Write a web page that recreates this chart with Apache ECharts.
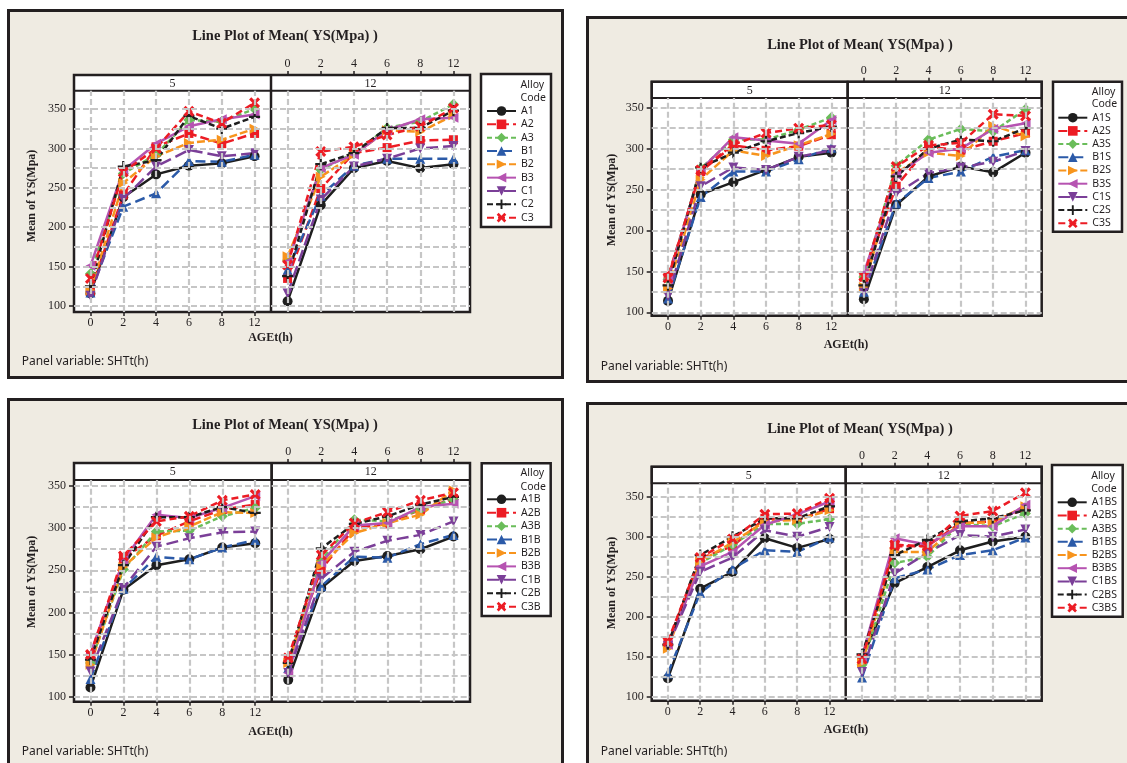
<!DOCTYPE html>
<html><head><meta charset="utf-8">
<script src="https://cdn.jsdelivr.net/npm/echarts@6/dist/echarts.min.js"></script>
<style>html,body{margin:0;padding:0;background:#fff}#c{width:1127px;height:763px}</style>
</head><body><div id="c"></div>
<script>
// ---------- data ----------
const categories = ['0','2','4','6','8','12'];
const yTickValues = [100,150,200,250,300,350];
const gridValues = [100,125,150,175,200,225,250,275,300,325,350];
const alloyCodes = ['A1','A2','A3','B1','B2','B3','C1','C2','C3'];
const panelSuffixes = ['', 'S', 'B', 'BS'];
const shtLevels = ['5','12'];
const titleText = 'Line Plot of Mean( YS(Mpa) )';
const yAxisName = 'Mean of YS(Mpa)';
const xAxisName = 'AGEt(h)';
const panelVarText = 'Panel variable: SHTt(h)';
const legendTitle = ['Alloy','Code'];

// rows: A1,A2,A3,B1,B2,B3,C1,C2,C3 ; columns: AGEt 0,2,4,6,8,12
const plain_sht5 = [
  [116,238,267,278,281,290],
  [118,241,302,319,306,319],
  [141,268,292,336,334,350],
  [117,226,243,284,283,292],
  [120,256,290,307,311,325],
  [151,272,306,328,337,343],
  [113,236,277,298,290,294],
  [125,277,285,341,325,340],
  [135,270,300,347,332,358]
];
const plain_sht12 = [
  [106,228,275,284,275,280],
  [135,249,294,301,310,311],
  [158,273,294,326,334,356],
  [146,240,278,287,287,287],
  [163,264,292,323,321,342],
  [156,275,292,323,337,339],
  [116,235,277,287,300,303],
  [138,280,294,326,326,348],
  [152,296,302,317,328,351]
];
const s_sht5 = [
  [114,244,259,274,290,295],
  [144,272,304,298,303,317],
  [140,276,311,311,323,338],
  [117,241,272,272,287,301],
  [129,262,298,291,304,318],
  [140,274,314,310,306,335],
  [120,254,277,274,290,298],
  [133,277,295,309,319,327],
  [142,274,305,319,325,329]
];
const s_sht12 = [
  [116,231,266,278,271,295],
  [143,254,302,298,309,319],
  [143,279,311,324,321,348],
  [125,233,264,272,290,298],
  [131,270,295,291,328,315],
  [148,268,295,300,324,331],
  [124,245,270,277,284,297],
  [133,266,300,311,309,325],
  [144,278,304,307,342,340]
];
const b_sht5 = [
  [111,227,256,263,277,282],
  [148,264,291,308,322,328],
  [140,251,296,297,314,324],
  [121,228,266,263,277,286],
  [138,254,289,302,319,318],
  [151,262,316,312,324,338],
  [130,229,278,288,295,296],
  [144,256,313,313,325,318],
  [150,267,308,314,333,340]
];
const b_sht12 = [
  [120,229,261,267,275,290],
  [144,251,300,305,322,335],
  [142,262,310,308,322,334],
  [134,231,266,265,281,292],
  [140,256,294,306,316,345],
  [128,259,303,306,325,329],
  [128,240,272,285,292,308],
  [140,276,305,314,328,337],
  [146,268,306,319,333,342]
];
const bs_sht5 = [
  [123,235,256,298,286,297],
  [167,273,288,323,321,335],
  [163,267,290,316,316,322],
  [129,230,260,283,281,299],
  [160,269,293,319,321,333],
  [165,263,281,315,328,344],
  [163,256,274,308,300,312],
  [165,277,300,323,323,338],
  [169,274,297,328,329,348]
];
const bs_sht12 = [
  [148,242,262,283,294,300],
  [146,288,288,317,319,335],
  [140,267,275,316,313,329],
  [124,248,259,277,283,299],
  [142,281,281,317,318,338],
  [150,298,290,313,313,340],
  [131,254,280,302,300,309],
  [153,277,296,319,323,333],
  [147,290,288,326,332,355]
];
const panelData = [[plain_sht5, plain_sht12],[s_sht5, s_sht12],[b_sht5, b_sht12],[bs_sht5, bs_sht12]];

// ---------- styles ----------
const INK = '#231f20';
const seriesStyles = [
  {color:'#1e1e1e', dash:'solid', symbol:'circle', size:10},
  {color:'#ec1c24', dash:[9,4], symbol:'rect', size:9},
  {color:'#6abd5a', dash:[5,3], symbol:'diamond', size:11},
  {color:'#2b5aa8', dash:[10,5], symbol:'triangle', size:10},
  {color:'#f7941d', dash:[8,3], symbol:'path://M0,0L10,5L0,10Z', size:10},
  {color:'#b653b1', dash:'solid', symbol:'path://M10,0L0,5L10,10Z', size:10},
  {color:'#7b3f98', dash:[12,5], symbol:'path://M0,0L10,0L5,10Z', size:10},
  {color:'#1e1e1e', dash:[6,3], symbol:'path://M4,0H6V4H10V6H6V10H4V6H0V4H4Z', size:11},
  {color:'#ec1c24', dash:[7,4], symbol:'path://M0,2L2,0L5,3L8,0L10,2L7,5L10,8L8,10L5,7L2,10L0,8L3,5Z', size:11}
];

const panels = [
  {frame:[7,9,557,370], l:74, mid:271, r:470, stripTop:75, plotTop:90.7, bottom:312, y100:306, y350:109,
   title:[285,36], yName:[32,196], xName:[270.5,338], panelVar:[21.7,362],
   legBox:[481,74,70,153], legItemX:486, legFirstY:111, legPitch:13.33, alloyY:[85,98]},
  {frame:[586,16,560,367], l:651.7, mid:847.7, r:1041.7, stripTop:81.7, plotTop:98, bottom:315.7, y100:312.3, y350:107.7,
   title:[860,45], yName:[611.7,200], xName:[846,345], panelVar:[600.7,367],
   legBox:[1053,81.7,69,150], legItemX:1057.3, legFirstY:117.7, legPitch:13.2, alloyY:[91.7,104.3]},
  {frame:[7,398,557,400], l:74, mid:271.7, r:470, stripTop:463, plotTop:480, bottom:701.7, y100:696.7, y350:486,
   title:[285,425], yName:[32,582], xName:[270.5,731.7], panelVar:[21.7,751.7],
   legBox:[481.7,463.3,69,152.7], legItemX:486, legFirstY:499.3, legPitch:13.42, alloyY:[472.7,486.7]},
  {frame:[586,402,560,400], l:651.7, mid:845.7, r:1041.7, stripTop:466.7, plotTop:483.3, bottom:700.7, y100:696.7, y350:496.7,
   title:[860,429], yName:[611.7,583], xName:[846,730], panelVar:[600.7,751.7],
   legBox:[1052,465,70.7,151.7], legItemX:1056.7, legFirstY:502.3, legPitch:13.18, alloyY:[476,489.3]}
];

const SERIF = '"Liberation Serif","Times New Roman",serif';
const SANS = '"Noto Sans","DejaVu Sans",sans-serif';

const grids=[], xAxes=[], yAxes=[], series=[], legends=[], graphics=[];

panels.forEach((P, pi) => {
  const k = (P.y100 - P.y350) / 250;
  const yMin = 100 - (P.bottom - P.y100) / k;
  const yMax = 350 + (P.y350 - P.plotTop) / k;
  const names = alloyCodes.map(c => c + panelSuffixes[pi]);
  const [fx, fy, fw, fh] = P.frame;

  graphics.push({type:'rect', z:0, z2:0, silent:true,
    shape:{x:fx+1.5, y:fy+1.5, width:fw-3, height:fh-3},
    style:{fill:'#efebe2', stroke:INK, lineWidth:3}});
  graphics.push({type:'rect', z:0, z2:1, silent:true,
    shape:{x:P.l, y:P.plotTop, width:P.r-P.l, height:P.bottom-P.plotTop},
    style:{fill:'#ffffff'}});

  [0,1].forEach(si => {
    const gi = grids.length;
    const left = si === 0 ? P.l : P.mid;
    const right = si === 0 ? P.mid : P.r;
    grids.push({left:left, top:P.plotTop, width:right-left, height:P.bottom-P.plotTop,
      containLabel:false, outerBoundsMode:'none', show:false});
    xAxes.push({type:'category', gridIndex:gi, data:categories, boundaryGap:true,
      position: si === 0 ? 'bottom' : 'top',
      offset: si === 0 ? 0 : (P.plotTop - P.stripTop),
      axisLine:{show:false},
      axisTick:{show:true, alignWithLabel:true, length:4, lineStyle:{color:INK, width:1.5}},
      axisLabel:{fontFamily:SERIF, fontSize:12, color:INK, margin:5},
      splitLine:{show:false}, z:6});
    yAxes.push({type:'value', gridIndex:gi, min:yMin, max:yMax, splitNumber:5,
      axisLine:{show:false},
      axisTick:{show: si === 0, length:5, lineStyle:{color:INK, width:1.5}, customValues:yTickValues},
      axisLabel:{show: si === 0, customValues:yTickValues, fontFamily:SERIF, fontSize:12, color:INK, margin:8},
      splitLine:{show:false}, z:6});
    series.push({type:'line', xAxisIndex:gi, yAxisIndex:gi, data:[], silent:true, z:1, animation:false,
      markLine:{silent:true, symbol:['none','none'], label:{show:false}, animation:false,
        emphasis:{disabled:true},
        lineStyle:{color:'#c6c6c6', type:[6,3], width:2.2},
        data: gridValues.map(v => ({yAxis:v})).concat(categories.map((c,i) => ({xAxis:i})))}});
    const rows = panelData[pi][si];
    rows.forEach((vals, ai) => {
      const st = seriesStyles[ai];
      series.push({type:'line', name:names[ai], xAxisIndex:gi, yAxisIndex:gi, data:vals,
        z:3, clip:false, animation:false, silent:true,
        symbol:st.symbol, symbolSize:st.size, showSymbol:true,
        lineStyle:{color:st.color, width:2.5, type:st.dash},
        itemStyle:{color:st.color}});
    });
    graphics.push({type:'rect', z:5, silent:true,
      shape:{x:left, y:P.stripTop, width:right-left, height:P.plotTop-P.stripTop},
      style:{fill:'#ffffff', stroke:INK, lineWidth:2}});
    graphics.push({type:'text', z:5, silent:true, x:(left+right)/2, y:(P.stripTop+P.plotTop)/2 + 0.5,
      style:{text:shtLevels[si], font:'12px '+SERIF, fill:INK, textAlign:'center', textVerticalAlign:'middle'}});
  });

  graphics.push({type:'rect', z:5, silent:true,
    shape:{x:P.l, y:P.stripTop, width:P.r-P.l, height:P.bottom-P.stripTop},
    style:{fill:null, stroke:INK, lineWidth:2.5}});
  graphics.push({type:'line', z:5, silent:true,
    shape:{x1:P.mid, y1:P.stripTop, x2:P.mid, y2:P.bottom},
    style:{stroke:INK, lineWidth:2.5}});

  graphics.push({type:'text', z:5, silent:true, x:P.title[0], y:P.title[1],
    style:{text:titleText, font:'bold 14.5px '+SERIF, fill:INK, textAlign:'center', textVerticalAlign:'middle'}});
  graphics.push({type:'text', z:5, silent:true, x:P.yName[0], y:P.yName[1], rotation:Math.PI/2,
    style:{text:yAxisName, font:'bold 12px '+SERIF, fill:INK, textAlign:'center', textVerticalAlign:'middle'}});
  graphics.push({type:'text', z:5, silent:true, x:P.xName[0], y:P.xName[1],
    style:{text:xAxisName, font:'bold 12px '+SERIF, fill:INK, textAlign:'center', textVerticalAlign:'middle'}});
  graphics.push({type:'text', z:5, silent:true, x:P.panelVar[0], y:P.panelVar[1],
    style:{text:panelVarText, font:'12px '+SANS, fill:INK, textAlign:'left', textVerticalAlign:'middle'}});

  const [bx, by, bw, bh] = P.legBox;
  graphics.push({type:'rect', z:5, z2:0, silent:true,
    shape:{x:bx, y:by, width:bw, height:bh},
    style:{fill:'#ffffff', stroke:INK, lineWidth:2.5}});
  legendTitle.forEach((t, ti) => {
    graphics.push({type:'text', z:5, z2:1, silent:true, x:P.legItemX + 34.5, y:P.alloyY[ti],
      style:{text:t, font:'10.5px '+SANS, fill:INK, textAlign:'left', textVerticalAlign:'middle'}});
  });
  legends.push({orient:'vertical', left:P.legItemX, top:P.legFirstY - 6, padding:0,
    itemWidth:29, itemHeight:12, itemGap:P.legPitch - 12, selectedMode:false, z:7,
    data:names,
    textStyle:{fontFamily:SANS, fontSize:10.5, color:INK, lineHeight:12}});
});

const chart = echarts.init(document.getElementById('c'), null, {renderer:'canvas'});
chart.setOption({
  backgroundColor:'#ffffff',
  animation:false,
  grid:grids, xAxis:xAxes, yAxis:yAxes, series:series, legend:legends,
  graphic:{elements:graphics}
});
</script>
</body></html>
